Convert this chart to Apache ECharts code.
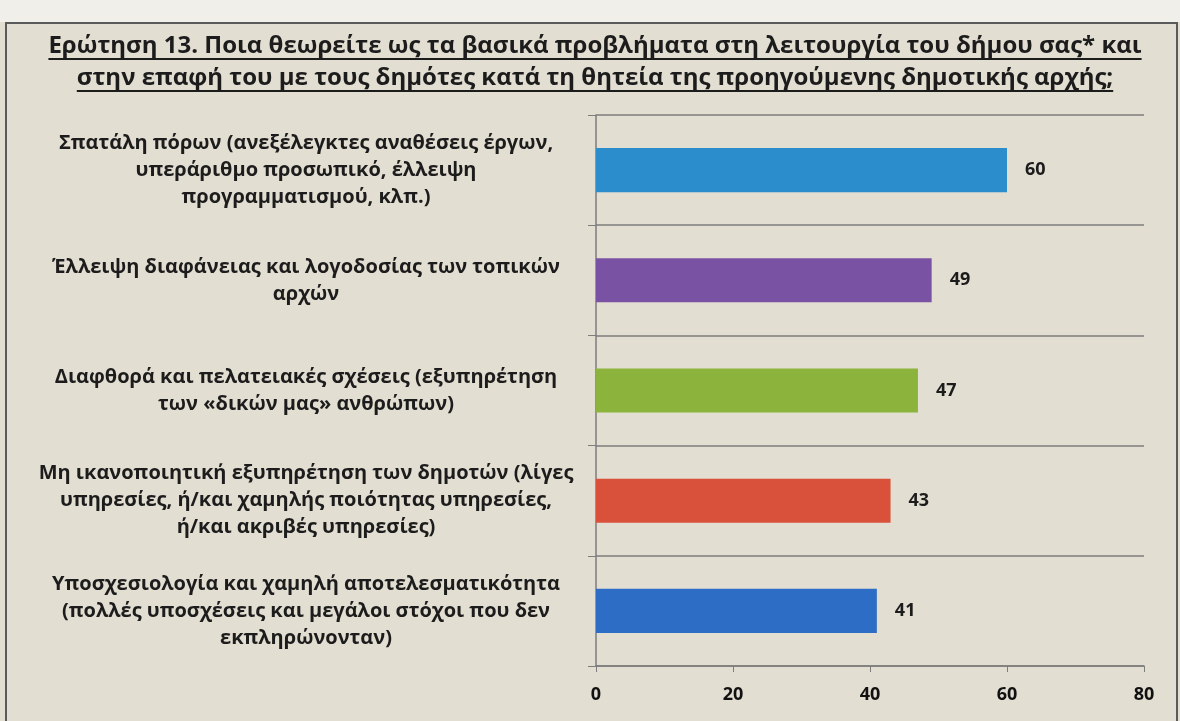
<!DOCTYPE html>
<html><head><meta charset="utf-8">
<script src="https://cdn.jsdelivr.net/npm/echarts@6/dist/echarts.min.js"></script>
<style>html,body{margin:0;padding:0;background:#f1efea}#c{width:1180px;height:721px}</style>
</head><body><div id="c"></div>
<script>
const titleLines = [
  'Ερώτηση 13. Ποια θεωρείτε ως τα βασικά προβλήματα στη λειτουργία του δήμου σας* και',
  'στην επαφή του με τους δημότες κατά τη θητεία της προηγούμενης δημοτικής αρχής;'
];
const categories = [
  'Σπατάλη πόρων (ανεξέλεγκτες αναθέσεις έργων,\nυπεράριθμο προσωπικό, έλλειψη\nπρογραμματισμού, κλπ.)',
  'Έλλειψη διαφάνειας και λογοδοσίας των τοπικών\nαρχών',
  'Διαφθορά και πελατειακές σχέσεις (εξυπηρέτηση\nτων «δικών μας» ανθρώπων)',
  'Μη ικανοποιητική εξυπηρέτηση των δημοτών (λίγες\nυπηρεσίες, ή/και χαμηλής ποιότητας υπηρεσίες,\nή/και ακριβές υπηρεσίες)',
  'Υποσχεσιολογία και χαμηλή αποτελεσματικότητα\n(πολλές υποσχέσεις και μεγάλοι στόχοι που δεν\nεκπληρώνονταν)'
];
const values = [60, 49, 47, 43, 41];
const barColors = ['#2b8dcc', '#7a52a3', '#8cb43c', '#d9513b', '#2e6dc6'];
const xTicks = [0, 20, 40, 60, 80];

const FONT = '"Open Sans", "DejaVu Sans", sans-serif';
const titleSize = 24;
const chart = echarts.init(document.getElementById('c'));

const cv = document.createElement('canvas').getContext('2d');
cv.font = 'bold ' + titleSize + 'px "Open Sans"';
const titleY = [46, 78];
const graphics = [
  {type: 'rect', shape: {x: 0, y: 0, width: 1180, height: 22}, style: {fill: '#f1efea'}, silent: true, z: -10},
  {type: 'rect', shape: {x: 6, y: 23, width: 1171, height: 720}, style: {fill: '#e3ded2', stroke: '#5a5a5a', lineWidth: 2}, silent: true, z: -10}
];
titleLines.forEach((t, i) => {
  graphics.push({type: 'text', x: 595, y: titleY[i], style: {text: t, font: 'bold ' + titleSize + 'px ' + FONT, fill: '#1c1c1c', align: 'center', verticalAlign: 'middle'}});
  const w = cv.measureText(t).width;
  graphics.push({type: 'line', shape: {x1: 595 - w / 2, y1: titleY[i] + 13, x2: 595 + w / 2, y2: titleY[i] + 13}, style: {stroke: '#1c1c1c', lineWidth: 2}});
});

chart.setOption({
  backgroundColor: '#e3ded2',
  animation: false,
  graphic: graphics,
  grid: {left: 596, right: 36, top: 115, bottom: 55, containLabel: false},
  xAxis: {
    type: 'value', min: xTicks[0], max: xTicks[xTicks.length - 1], interval: 20,
    splitLine: {show: false},
    axisLine: {show: true, lineStyle: {color: '#7d7d7d', width: 1.5}},
    axisTick: {show: true, length: 6, lineStyle: {color: '#7d7d7d'}},
    axisLabel: {color: '#111', fontFamily: FONT, fontWeight: 'bold', fontSize: 18, margin: 20}
  },
  yAxis: {
    type: 'category', data: categories, inverse: true,
    axisLine: {show: true, lineStyle: {color: '#7d7d7d', width: 1.5}},
    axisTick: {show: true, length: 8, lineStyle: {color: '#7d7d7d'}},
    splitLine: {show: true, lineStyle: {color: '#7d7d7d', width: 1.5}},
    axisLabel: {color: '#1c1c1c', fontFamily: FONT, fontWeight: 'bold', fontSize: 20, lineHeight: 27, align: 'center', margin: 290}
  },
  series: [{
    type: 'bar', barCategoryGap: '60%',
    data: values.map((v, i) => ({value: v, itemStyle: {color: barColors[i]}})),
    label: {show: true, position: 'right', distance: 18, color: '#1c1c1c', fontFamily: FONT, fontWeight: 'bold', fontSize: 18}
  }]
});
</script></body></html>
